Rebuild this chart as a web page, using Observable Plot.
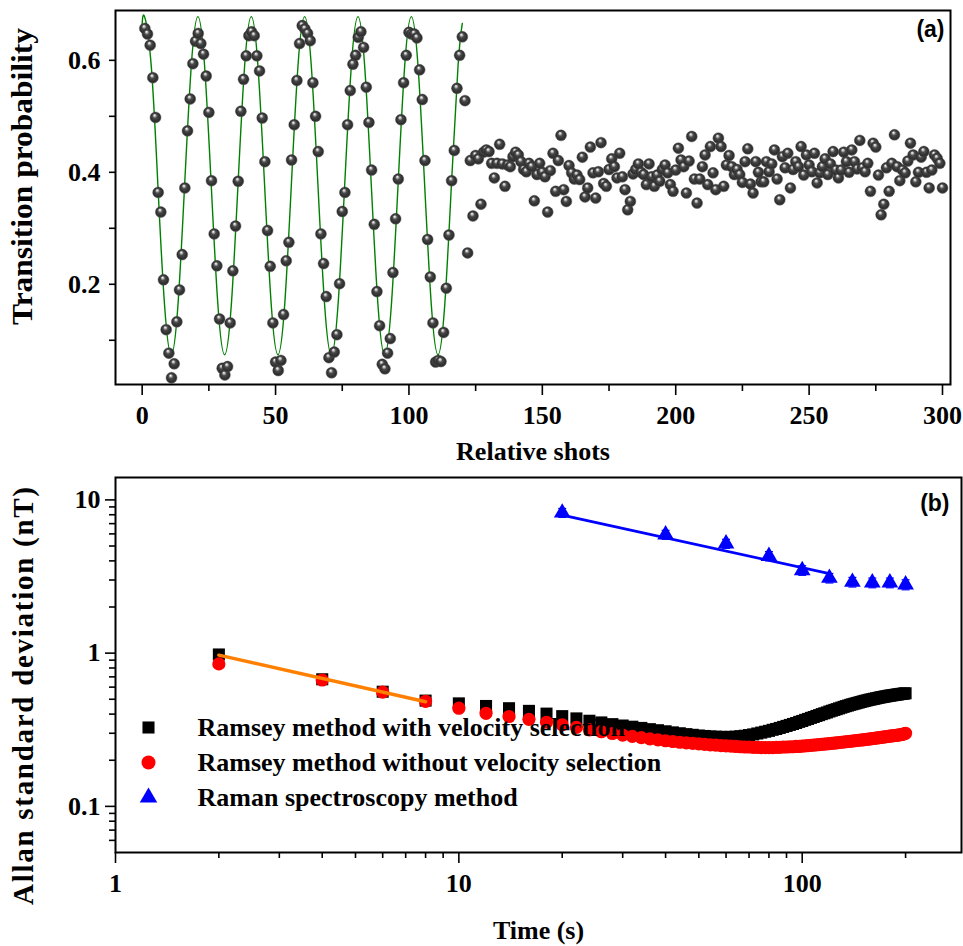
<!DOCTYPE html>
<html><head><meta charset="utf-8">
<script src="https://cdn.jsdelivr.net/npm/d3@7"></script>
<script src="https://cdn.jsdelivr.net/npm/@observablehq/plot@0.6"></script>
<style>
body{margin:0;background:#fff;}
#chart{width:963px;height:946px;}
#chart svg{display:block;}
</style></head><body><div id="chart"></div>
<script>
// ---------- Panel (a) data ----------
const shots = d3.range(1, 301);
const probability = [
0.657,0.647,0.627,0.569,0.498,0.364,0.329,0.208,0.119,0.077,
0.033,0.058,0.133,0.190,0.253,0.372,0.474,0.531,0.594,0.634,
0.648,0.630,0.611,0.572,0.507,0.385,0.290,0.233,0.138,0.050,
0.038,0.053,0.131,0.224,0.304,0.384,0.509,0.566,0.608,0.644,
0.651,0.644,0.608,0.581,0.497,0.419,0.296,0.232,0.131,0.061,
0.046,0.064,0.146,0.242,0.275,0.422,0.485,0.564,0.630,0.662,
0.656,0.648,0.635,0.560,0.500,0.437,0.290,0.237,0.178,0.069,
0.042,0.079,0.110,0.201,0.330,0.364,0.485,0.546,0.593,0.609,
0.641,0.651,0.623,0.552,0.489,0.404,0.307,0.187,0.126,0.057,
0.049,0.077,0.103,0.221,0.317,0.388,0.494,0.560,0.609,0.650,
0.647,0.647,0.640,0.583,0.530,0.421,0.280,0.213,0.131,0.061,
0.064,0.062,0.114,0.193,0.288,0.385,0.439,0.550,0.609,0.642,
0.528,0.256,0.421,0.322,0.430,0.424,0.343,0.436,0.440,0.437,
0.416,0.390,0.416,0.450,0.415,0.375,0.413,0.410,0.428,0.436,
0.431,0.419,0.405,0.401,0.416,0.410,0.349,0.396,0.416,0.400,
0.392,0.329,0.403,0.434,0.366,0.421,0.466,0.369,0.348,0.412,
0.399,0.388,0.395,0.387,0.427,0.356,0.372,0.445,0.399,0.354,
0.401,0.453,0.380,0.375,0.405,0.424,0.410,0.390,0.434,0.392,
0.369,0.333,0.348,0.397,0.405,0.415,0.400,0.396,0.378,0.415,
0.392,0.375,0.395,0.384,0.405,0.413,0.399,0.378,0.366,0.404,
0.443,0.422,0.410,0.363,0.420,0.464,0.388,0.345,0.388,0.410,
0.431,0.378,0.446,0.399,0.369,0.461,0.446,0.375,0.413,0.430,
0.410,0.396,0.405,0.396,0.382,0.419,0.442,0.379,0.363,0.419,
0.400,0.383,0.383,0.419,0.401,0.415,0.440,0.388,0.351,0.428,
0.408,0.434,0.372,0.405,0.419,0.410,0.446,0.395,0.431,0.413,
0.401,0.434,0.381,0.399,0.410,0.424,0.396,0.415,0.437,0.404,
0.390,0.404,0.436,0.419,0.400,0.440,0.419,0.406,0.457,0.408,
0.401,0.416,0.366,0.452,0.445,0.395,0.324,0.343,0.408,0.366,
0.416,0.467,0.410,0.385,0.404,0.399,0.420,0.452,0.431,0.383,
0.400,0.427,0.437,0.400,0.372,0.404,0.431,0.425,0.416,0.372
];
// fitted oscillation (green), read at 1/8-period points
const fitX = [0, 0.9,3.4,5.9,8.4,10.9,13.4,15.9,18.4, 20.9,23.4,25.9,28.4,30.9,33.4,35.9,38.4,
  40.9,43.4,45.9,48.4,50.9,53.4,55.9,58.4, 60.9,63.4,65.9,68.4,70.9,73.4,75.9,78.4,
  80.9,83.4,85.9,88.4,90.9,93.4,95.9,98.4, 100.9,103.4,105.9,108.4,110.9,113.4,115.9,118.4, 120];
const fitY = [0.666, 0.678,0.590,0.376,0.162,0.074,0.162,0.376,0.590, 0.678,0.590,0.376,0.162,0.074,0.162,0.376,0.590,
  0.678,0.590,0.376,0.162,0.074,0.162,0.376,0.590, 0.678,0.590,0.376,0.162,0.074,0.162,0.376,0.590,
  0.678,0.590,0.376,0.162,0.074,0.162,0.376,0.590, 0.678,0.590,0.376,0.162,0.074,0.162,0.376,0.590, 0.666];
const xTicksA = [0, 50, 100, 150, 200, 250, 300];
const xMinorA = [25, 75, 125, 175, 225, 275];
const yTicksA = [0.2, 0.4, 0.6];
const yMinorA = [0.1, 0.3, 0.5];

// ---------- Panel (b) data ----------
const times = d3.range(2, 201, 2);
const ramseyWith = [
0.98,0.675,0.56,0.49,0.47,0.452,0.437,0.42,0.403,0.388,
0.375,0.362,0.353,0.344,0.337,0.331,0.325,0.319,0.314,0.309,
0.304,0.300,0.296,0.293,0.290,0.288,0.286,0.285,0.284,0.284,
0.284,0.285,0.287,0.289,0.292,0.295,0.299,0.303,0.307,0.311,
0.316,0.320,0.325,0.330,0.335,0.340,0.345,0.350,0.356,0.361,
0.367,0.372,0.378,0.383,0.389,0.394,0.400,0.405,0.410,0.416,
0.421,0.426,0.431,0.436,0.441,0.446,0.451,0.455,0.460,0.464,
0.468,0.472,0.476,0.480,0.484,0.488,0.491,0.495,0.498,0.501,
0.504,0.507,0.510,0.513,0.516,0.518,0.521,0.523,0.526,0.528,
0.530,0.532,0.534,0.536,0.538,0.540,0.542,0.543,0.545,0.547];
const ramseyWithout = [
0.85,0.668,0.556,0.485,0.437,0.405,0.386,0.370,0.354,0.341,
0.328,0.316,0.307,0.299,0.292,0.286,0.281,0.276,0.272,0.268,
0.265,0.262,0.260,0.258,0.256,0.254,0.252,0.251,0.249,0.248,
0.247,0.246,0.245,0.244,0.244,0.243,0.243,0.242,0.242,0.242,
0.242,0.243,0.243,0.244,0.244,0.245,0.245,0.246,0.246,0.247,
0.248,0.249,0.250,0.251,0.252,0.253,0.254,0.255,0.256,0.257,
0.258,0.259,0.260,0.261,0.262,0.263,0.264,0.265,0.266,0.267,
0.268,0.269,0.270,0.271,0.272,0.273,0.274,0.275,0.276,0.277,
0.278,0.279,0.280,0.281,0.282,0.283,0.284,0.285,0.286,0.287,
0.288,0.289,0.290,0.291,0.292,0.293,0.294,0.295,0.297,0.300];
const ramanTimes = [20, 40, 60, 80, 100, 120, 140, 160, 180, 200];
const ramanValues = [8.24, 5.93, 5.18, 4.30, 3.47, 3.09, 2.91, 2.88, 2.88, 2.80];
const ramanErrors = [0.55, 0.40, 0.35, 0.30, 0.25, 0.22, 0.21, 0.21, 0.21, 0.21];
const ramseyFitX = [2, 8];
const ramseyFitY = [0.97, 0.482];
const ramanFitX = [20, 120];
const ramanFitY = [7.95, 3.3];
const xTicksB = [1, 10, 100];
const xMinorB = [2,3,4,5,6,7,8,9,20,30,40,50,60,70,80,90,200];
const yTicksB = [0.1, 1, 10];
const yMinorB = [0.06,0.07,0.08,0.09,0.2,0.3,0.4,0.5,0.6,0.7,0.8,0.9,2,3,4,5,6,7,8,9];
const legendLabels = ["Ramsey method with velocity selection", "Ramsey method without velocity selection", "Raman spectroscopy method"];

// ---------- build tables ----------
const dataA = shots.map((s, i) => ({x: s, y: probability[i]}));
const fitA = fitX.map((x, i) => ({x, y: fitY[i]}));
const withV = times.map((t, i) => ({x: t, y: ramseyWith[i]}));
const withoutV = times.map((t, i) => ({x: t, y: ramseyWithout[i]}));
const raman = ramanTimes.map((t, i) => ({x: t, y: ramanValues[i], e: ramanErrors[i]}));
const fitRamsey = ramseyFitX.map((x, i) => ({x, y: ramseyFitY[i]}));
const fitRaman = ramanFitX.map((x, i) => ({x, y: ramanFitY[i]}));

const serif = "'Liberation Serif','Times New Roman',serif";
const sans = "'Liberation Sans',Arial,sans-serif";
const baseStyle = {fontFamily: serif, fontSize: "26px", fontWeight: "bold", color: "black", background: "white", overflow: "visible"};
const noText = () => "";
// horizontal cap symbol for error bars
const capSymbol = {draw(ctx, size) { const w = Math.sqrt(size) / 2; ctx.moveTo(-w, 0); ctx.lineTo(w, 0); }};

const plotA = Plot.plot({
  width: 963, height: 470,
  marginLeft: 115, marginRight: 13, marginTop: 10, marginBottom: 86,
  x: {domain: [-10, 303]},
  y: {domain: [0.021, 0.689]},
  style: baseStyle,
  marks: [
    Plot.line(fitA, {x: "x", y: "y", curve: "natural", stroke: "#008000", strokeWidth: 1.4}),
    Plot.dot(dataA, {x: "x", y: "y", r: 5.5, fill: "url(#ball)", stroke: "#3a3a3a", strokeWidth: 0.4}),
    Plot.frame({stroke: "black", strokeWidth: 2}),
    Plot.axisX({ticks: xTicksA, tickSize: 11, tickPadding: 10, strokeWidth: 1.6, tickFormat: d => String(d), label: null}),
    Plot.axisX({ticks: xMinorA, tickSize: 7, strokeWidth: 1.6, tickFormat: noText, label: null}),
    Plot.axisY({ticks: yTicksA, tickSize: 6, tickPadding: 9, strokeWidth: 1.6, tickFormat: d => d.toFixed(1), label: null}),
    Plot.axisY({ticks: yMinorA, tickSize: 6, strokeWidth: 1.6, tickFormat: noText, label: null}),
    Plot.text(["Relative shots"], {frameAnchor: "bottom", dy: 67, lineAnchor: "middle", fontSize: 26, fontWeight: "bold"}),
    Plot.text(["Transition probability"], {frameAnchor: "left", rotate: -90, dx: -93, dy: -21, lineAnchor: "middle", fontSize: 29, fontWeight: "bold"}),
    Plot.text(["(a)"], {frameAnchor: "top-right", dx: -6, dy: 10, textAnchor: "end", lineAnchor: "top", fontFamily: sans, fontSize: 23, fontWeight: "bold"})
  ]
});

const plotB = Plot.plot({
  width: 963, height: 476,
  marginLeft: 115, marginRight: 2, marginTop: 7, marginBottom: 94,
  x: {type: "log", domain: [1, 291]},
  y: {type: "log", domain: [0.05, 14]},
  style: baseStyle,
  marks: [
    Plot.dot(withV, {x: "x", y: "y", symbol: "square", r: 6.8, fill: "black", stroke: "none"}),
    Plot.dot(withoutV, {x: "x", y: "y", symbol: "circle", r: 6.6, fill: "#ff0000", stroke: "none"}),
    Plot.line(fitRamsey, {x: "x", y: "y", stroke: "#ff8000", strokeWidth: 3.5}),
    Plot.ruleX(raman, {x: "x", y1: d => d.y - d.e, y2: d => d.y + d.e, stroke: "#0000ff", strokeWidth: 1.2}),
    Plot.dot(raman, {x: "x", y: d => d.y - d.e, symbol: capSymbol, r: 4.5, stroke: "#0000ff", strokeWidth: 1.2, fill: "none"}),
    Plot.dot(raman, {x: "x", y: d => d.y + d.e, symbol: capSymbol, r: 4.5, stroke: "#0000ff", strokeWidth: 1.2, fill: "none"}),
    Plot.line(fitRaman, {x: "x", y: "y", stroke: "#0000ff", strokeWidth: 2.8}),
    Plot.dot(raman, {x: "x", y: "y", symbol: "triangle", r: 6.2, fill: "#0000ff", stroke: "none"}),
    Plot.frame({stroke: "black", strokeWidth: 2}),
    Plot.axisX({ticks: xTicksB, tickSize: 11, tickPadding: 10, strokeWidth: 1.6, tickFormat: d => String(d), label: null}),
    Plot.axisX({ticks: xMinorB, tickSize: 6, strokeWidth: 1.6, tickFormat: noText, label: null}),
    Plot.axisY({ticks: yTicksB, tickSize: 10, tickPadding: 5, strokeWidth: 1.6, tickFormat: d => String(d), label: null}),
    Plot.axisY({ticks: yMinorB, tickSize: 6, strokeWidth: 1.6, tickFormat: noText, label: null}),
    Plot.text(["Time (s)"], {frameAnchor: "bottom", dy: 78, lineAnchor: "middle", fontSize: 26, fontWeight: "bold"}),
    Plot.text(["Allan standard deviation (nT)"], {frameAnchor: "left", rotate: -90, dx: -92, dy: 31, lineAnchor: "middle", fontSize: 29, fontWeight: "bold"}),
    Plot.text(["(b)"], {frameAnchor: "top-right", dx: -12, dy: 17, textAnchor: "end", lineAnchor: "top", fontFamily: sans, fontSize: 23, fontWeight: "bold"}),
    // legend
    Plot.dot([0], {frameAnchor: "top-left", dx: 33, dy: 250, symbol: "square", r: 6.8, fill: "black"}),
    Plot.dot([0], {frameAnchor: "top-left", dx: 33, dy: 285, symbol: "circle", r: 7, fill: "#ff0000"}),
    Plot.dot([0], {frameAnchor: "top-left", dx: 33, dy: 320, symbol: "triangle", r: 6.5, fill: "#0000ff"}),
    Plot.text([legendLabels[0]], {frameAnchor: "top-left", dx: 82, dy: 250, textAnchor: "start", lineAnchor: "middle", fontSize: 26, fontWeight: "bold"}),
    Plot.text([legendLabels[1]], {frameAnchor: "top-left", dx: 82, dy: 285, textAnchor: "start", lineAnchor: "middle", fontSize: 26, fontWeight: "bold"}),
    Plot.text([legendLabels[2]], {frameAnchor: "top-left", dx: 82, dy: 320, textAnchor: "start", lineAnchor: "middle", fontSize: 26, fontWeight: "bold"})
  ]
});

// gradient for the ball markers
const defs = d3.select(plotA).insert("defs", ":first-child");
const grad = defs.append("radialGradient").attr("id", "ball")
  .attr("cx", "0.5").attr("cy", "0.5").attr("r", "0.55").attr("fx", "0.4").attr("fy", "0.28");
[["0", "#ffffff"], ["0.14", "#c8c8c8"], ["0.38", "#4a4a4a"], ["0.78", "#2c2c2c"], ["1", "#5e5e5e"]]
  .forEach(([o, c]) => grad.append("stop").attr("offset", o).attr("stop-color", c));

// stretch rotated titles to the reference lengths (anchored at start, shifted by half length)
function fitTitle(svg, label, len, adjust) {
  d3.select(svg).selectAll("text").filter(function() { return this.textContent === label; })
    .attr("text-anchor", "start").attr("x", -len / 2)
    .attr("textLength", len).attr("lengthAdjust", adjust);
}
fitTitle(plotA, "Transition probability", 297, "spacingAndGlyphs");
fitTitle(plotB, "Allan standard deviation (nT)", 418, "spacing");

const root = document.getElementById("chart");
root.appendChild(plotA);
root.appendChild(plotB);
</script>
</body></html>
